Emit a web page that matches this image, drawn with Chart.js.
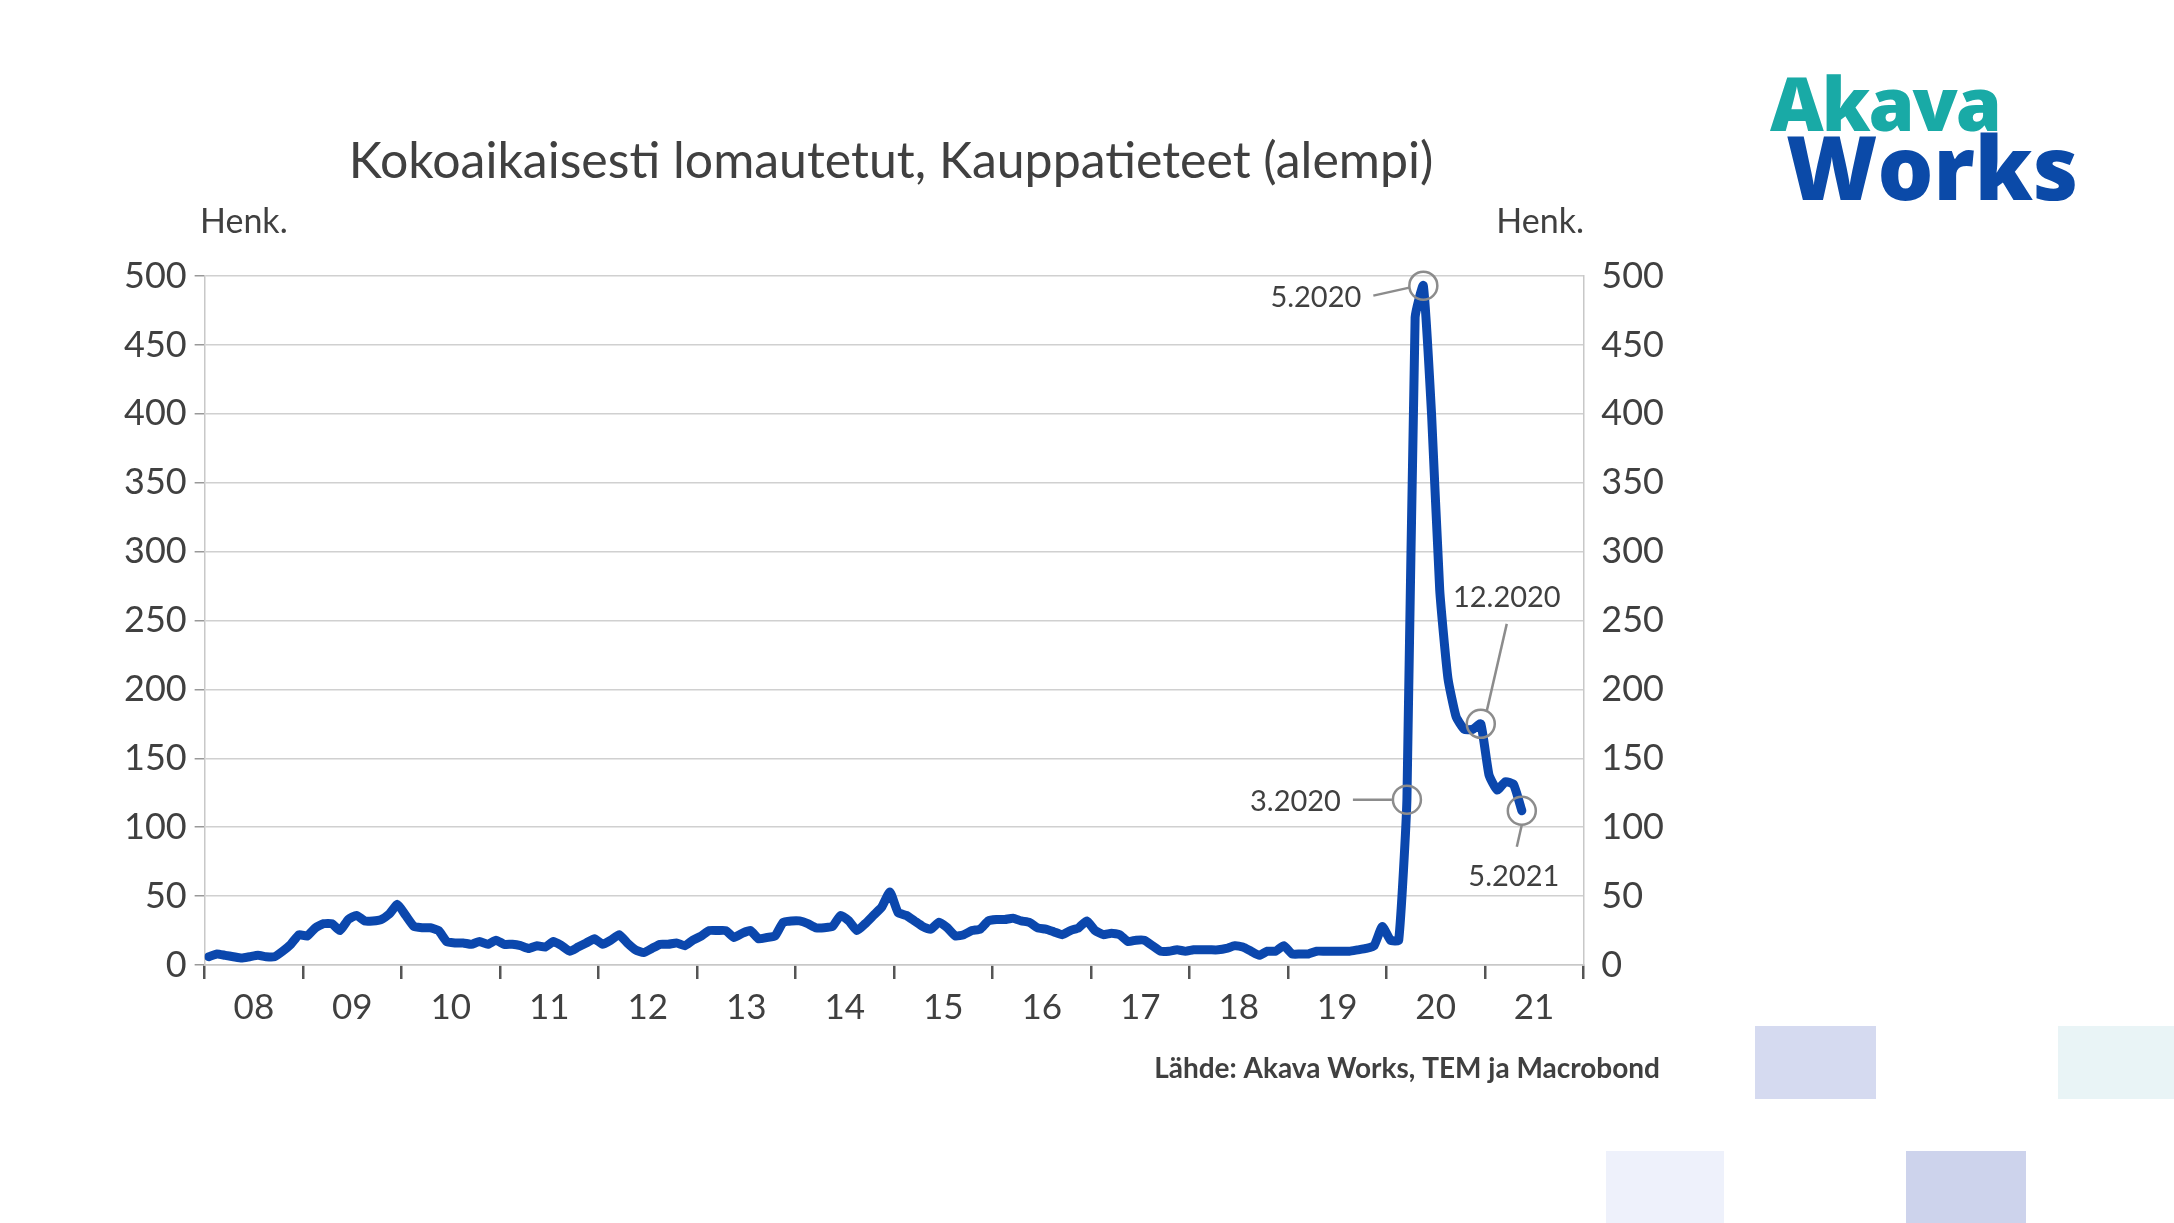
<!DOCTYPE html>
<html>
<head>
<meta charset="utf-8">
<script src="https://cdn.jsdelivr.net/npm/chart.js@4"></script>
<style>
  html, body { margin: 0; padding: 0; background: #fff; }
  body { width: 2174px; height: 1223px; position: relative; overflow: hidden; font-family: Lato, "Open Sans", sans-serif; }
  #wrap { position: absolute; left: 0; top: 0; width: 2174px; height: 1223px; }
  .sq { position: absolute; }
  .logo { position: absolute; font-family: "Open Sans", sans-serif; font-weight: 800; letter-spacing: -2px; line-height: 1; }
</style>
</head>
<body>
<div class="sq" style="left:1755px;top:1026px;width:121px;height:73px;background:#d5daf0"></div>
<div class="sq" style="left:2058px;top:1026px;width:116px;height:73px;background:#e9f4f6"></div>
<div class="sq" style="left:1606px;top:1151px;width:118px;height:72px;background:#eef1fb"></div>
<div class="sq" style="left:1906px;top:1151px;width:120px;height:72px;background:#cdd3ec"></div>
<div class="logo" style="left:1770px;top:66px;font-size:74px;color:#19aaa6">Akava</div>
<div class="logo" style="left:1786px;top:122px;font-size:88px;letter-spacing:0px;color:#0b4aa8">Works</div>
<div id="wrap"><canvas id="c"></canvas></div>
<script>
const years = ['08','09','10','11','12','13','14','15','16','17','18','19','20','21'];
const startYear = 2008;
// monthly values, Jan 2008 .. May 2021 (henk.)
const v2008 = [6, 8, 7, 6, 5, 6, 7, 6, 6, 10, 15, 22];
const v2009 = [21, 27, 30, 30, 25, 33, 36, 32, 32, 33, 37, 44];
const v2010 = [36, 28, 27, 27, 25, 17, 16, 16, 15, 17, 15, 18];
const v2011 = [15, 15, 14, 12, 14, 13, 17, 14, 10, 13, 16, 19];
const v2012 = [15, 18, 22, 16, 11, 9, 12, 15, 15, 16, 14, 18];
const v2013 = [21, 25, 25, 25, 20, 23, 25, 19, 20, 21, 31, 32];
const v2014 = [32, 30, 27, 27, 28, 36, 32, 25, 30, 36, 42, 53];
const v2015 = [38, 36, 32, 28, 26, 31, 27, 21, 22, 25, 26, 32];
const v2016 = [33, 33, 34, 32, 31, 27, 26, 24, 22, 25, 27, 32];
const v2017 = [25, 22, 23, 22, 17, 18, 18, 14, 10, 10, 11, 10];
const v2018 = [11, 11, 11, 11, 12, 14, 13, 10, 7, 10, 10, 14];
const v2019 = [8, 8, 8, 10, 10, 10, 10, 10, 11, 12, 14, 28];
const v2020 = [18, 18, 120, 470, 493, 400, 272, 208, 180, 171, 171, 175];
const v2021 = [138, 127, 133, 131, 112];
const series = [v2008, v2009, v2010, v2011, v2012, v2013, v2014, v2015, v2016, v2017, v2018, v2019, v2020, v2021];
const yTicks = [0, 50, 100, 150, 200, 250, 300, 350, 400, 450, 500];
const notes = [
  { label: '3.2020', year: 2020, month: 3 },
  { label: '5.2020', year: 2020, month: 5 },
  { label: '12.2020', year: 2020, month: 12 },
  { label: '5.2021', year: 2021, month: 5 }
];

const points = [];
series.forEach((arr, yi) => arr.forEach((v, mi) => points.push({ x: startYear + yi + (mi + 0.5) / 12, y: v })));
function pointOf(n) { return points[(n.year - startYear) * 12 + n.month - 1]; }

const txt = '#404040';
const font = 'Lato, "Open Sans", sans-serif';

const notePlugin = {
  id: 'notes',
  afterDatasetsDraw(chart) {
    const ctx = chart.ctx, xs = chart.scales.x, ys = chart.scales.y;
    const pos = notes.map(n => { const p = pointOf(n); return { n, x: xs.getPixelForValue(p.x), y: ys.getPixelForValue(p.y) }; });
    ctx.save();
    ctx.strokeStyle = '#8c8c8c'; ctx.lineWidth = 2.5;
    ctx.font = '29px ' + font; ctx.fillStyle = txt; ctx.textBaseline = 'middle';
    pos.forEach(({ n, x, y }) => {
      ctx.beginPath(); ctx.arc(x, y, 14, 0, Math.PI * 2); ctx.stroke();
      ctx.beginPath();
      if (n.label === '3.2020') {
        ctx.moveTo(x - 54, y); ctx.lineTo(x - 15, y); ctx.stroke();
        ctx.textAlign = 'right'; ctx.fillText(n.label, x - 66, y + 2);
      } else if (n.label === '5.2020') {
        ctx.moveTo(x - 50, y + 10); ctx.lineTo(x - 14, y + 2); ctx.stroke();
        ctx.textAlign = 'right'; ctx.fillText(n.label, x - 62, y + 12);
      } else if (n.label === '12.2020') {
        ctx.moveTo(x + 6, y - 13); ctx.lineTo(x + 26, y - 100); ctx.stroke();
        ctx.textAlign = 'center'; ctx.fillText(n.label, x + 26, y - 126);
      } else {
        ctx.moveTo(x, y + 14); ctx.lineTo(x - 5, y + 36); ctx.stroke();
        ctx.textAlign = 'center'; ctx.fillText(n.label, x - 8, y + 66);
      }
    });
    ctx.restore();
  }
};

const textPlugin = {
  id: 'texts',
  afterDraw(chart) {
    const ctx = chart.ctx;
    ctx.save();
    ctx.fillStyle = txt; ctx.textBaseline = 'middle';
    ctx.font = '50px ' + font; ctx.textAlign = 'center';
    ctx.fillText('Kokoaikaisesti lomautetut, Kauppatieteet (alempi)', 891, 162);
    ctx.font = '34px ' + font;
    ctx.textAlign = 'left'; ctx.fillText('Henk.', 200, 222);
    ctx.textAlign = 'right'; ctx.fillText('Henk.', 1584, 222);
    ctx.font = 'bold 28px ' + font;
    ctx.fillText('Lähde: Akava Works, TEM ja Macrobond', 1660, 1069);
    ctx.restore();
  }
};

const yAxis = (pos) => ({
  position: pos, min: 0, max: 500,
  afterBuildTicks: s => { s.ticks = yTicks.map(v => ({ value: v })); },
  grid: { display: pos === 'left', color: '#d0d0d0', lineWidth: 1.5, drawTicks: true, tickLength: 10, tickColor: '#999' },
  border: { display: true, color: '#c8c8c8', width: 1.5 },
  ticks: { color: txt, font: { size: 36, family: font }, padding: 8 }
});

new Chart(document.getElementById('c'), {
  type: 'line',
  data: { datasets: [{ data: points, borderColor: '#0b47ad', borderWidth: 9, pointRadius: 0, tension: 0.15, borderCapStyle: 'round', borderJoinStyle: 'round' }] },
  options: {
    responsive: true, maintainAspectRatio: false, animation: false,
    layout: { padding: { left: 116, right: 502, top: 276, bottom: 194 } },
    plugins: { legend: { display: false }, tooltip: { enabled: false } },
    scales: {
      x: {
        type: 'linear', min: 2008, max: 2022,
        afterBuildTicks: s => { s.ticks = []; for (let y = 2008; y <= 2022; y++) s.ticks.push({ value: y }); },
        grid: { display: true, drawOnChartArea: false, tickLength: 14, tickColor: '#555', lineWidth: 2.5 },
        border: { display: true, color: '#c8c8c8', width: 1.5 },
        ticks: { display: false }
      },
      x2: {
        type: 'linear', position: 'bottom', min: 2008, max: 2022,
        afterBuildTicks: s => { s.ticks = years.map((_, i) => ({ value: startYear + i + 0.5 })); },
        grid: { display: false }, border: { display: false },
        ticks: { color: txt, font: { size: 35, family: font }, padding: 0, callback: (v) => years[Math.floor(v) - startYear] }
      },
      y: yAxis('left'),
      y2: yAxis('right')
    }
  },
  plugins: [notePlugin, textPlugin]
});
</script>
</body>
</html>
